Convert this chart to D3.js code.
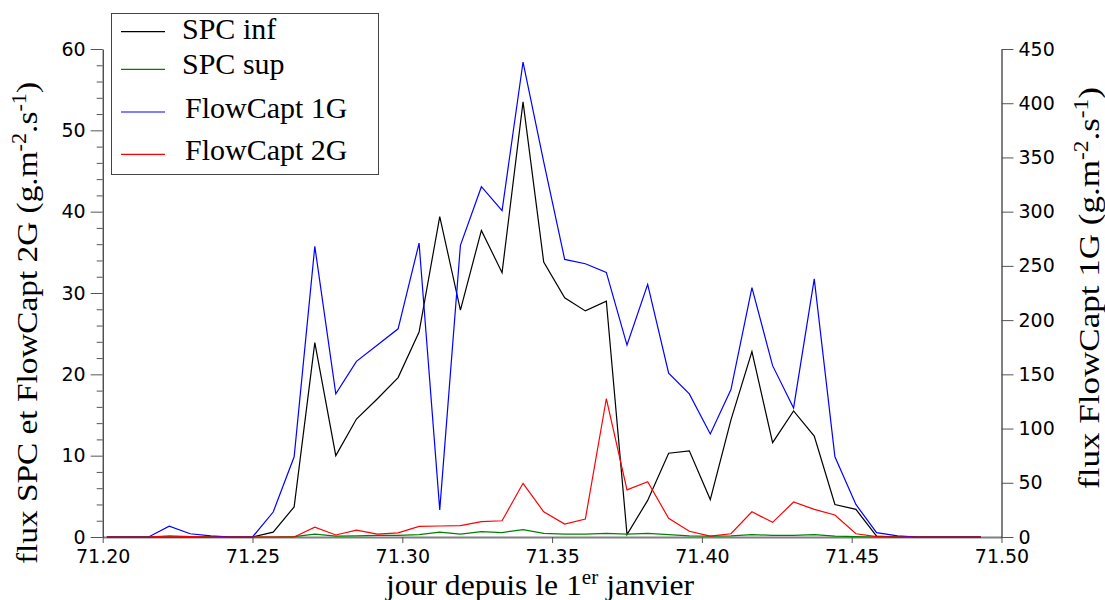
<!DOCTYPE html>
<html>
<head>
<meta charset="utf-8">
<script src="https://cdn.jsdelivr.net/npm/d3@7"></script>
<style>
html,body{margin:0;padding:0;background:#fff;}
svg{display:block;}
.tick text{font-family:"DejaVu Sans",sans-serif;font-size:19px;fill:#000;}
</style>
</head>
<body>
<svg id="chart" width="1105" height="600"></svg>
<script>
// time (day since 1 January), 10-minute steps
const days = [71.2014,71.2083,71.2153,71.2222,71.2292,71.2361,71.2431,71.2500,71.2569,71.2639,
  71.2708,71.2778,71.2847,71.2917,71.2986,71.3056,71.3125,71.3194,71.3264,71.3333,
  71.3403,71.3472,71.3542,71.3611,71.3681,71.3750,71.3819,71.3889,71.3958,71.4028,
  71.4097,71.4167,71.4236,71.4306,71.4375,71.4444,71.4514,71.4583,71.4653,71.4722,
  71.4792,71.4861,71.4931];
const spcInf = [0,0,0,0,0,0,0,0,0.6,3.7,
  23.9,10.0,14.5,17.0,19.6,25.2,39.4,27.9,37.7,32.5,
  53.5,33.8,29.4,27.8,29.0,0.3,4.5,10.3,10.6,4.6,
  14.4,22.8,11.6,15.5,12.4,4.0,3.4,0.1,0,0,
  0,0,0];
const spcSup = [0,0,0,0,0,0,0,0,0,0.05,
  0.35,0.1,0.15,0.2,0.2,0.3,0.6,0.35,0.65,0.55,
  0.9,0.45,0.35,0.35,0.45,0.35,0.45,0.3,0.15,0.1,
  0.15,0.3,0.2,0.2,0.3,0.1,0.05,0,0,0,
  0,0,0];
const flowCapt1G = [0,0,0,10,3,1,0,0,23,74,
  268,132,162,177,192,271,25,269,323,301,
  438,346,256,252,244,177,233,151,132,95,
  136,230,158,119,238,74,30,4,1,0,
  0,0,0];
const flowCapt2G = [0,0,0,0.15,0.05,0,0,0,0,0,
  1.2,0.25,0.85,0.35,0.5,1.3,1.35,1.4,1.9,2.0,
  6.6,3.1,1.6,2.2,17.0,5.8,6.8,2.3,0.7,0.1,
  0.4,3.1,1.8,4.3,3.4,2.7,0.4,0.05,0,0,
  0,0,0];
const xTicks = [71.20,71.25,71.30,71.35,71.40,71.45,71.50];
const leftTicks = [0,10,20,30,40,50,60];
const leftMinor = [2,4,6,8,12,14,16,18,22,24,26,28,32,34,36,38,42,44,46,48,52,54,56,58];
const rightTicks = [0,50,100,150,200,250,300,350,400,450];
const legendLabels = ["SPC inf","SPC sup","FlowCapt 1G","FlowCapt 2G"];
const colors = ["#000000","#008000","#0000ff","#ff0000"];

const svg = d3.select("#chart");
const L = 102.7, R = 1001.5, T = 49, B = 537;
const x = d3.scaleLinear().domain([71.2,71.5]).range([L,R]);
const yL = d3.scaleLinear().domain([0,60]).range([B,T]);
const yR = d3.scaleLinear().domain([0,450]).range([B,T]);

// x axis
const gx = svg.append("g").attr("transform",`translate(0,${B})`)
  .call(d3.axisBottom(x).tickValues(xTicks).tickFormat(d3.format(".2f")).tickSize(6).tickPadding(7).tickSizeOuter(0));
gx.select(".domain").attr("stroke","#808080").attr("stroke-width",2);
gx.selectAll(".tick line").attr("stroke","#555");

// left axis
const gl = svg.append("g").attr("transform",`translate(${L},0)`)
  .call(d3.axisLeft(yL).tickValues(leftTicks).tickSize(12).tickPadding(5).tickSizeOuter(0));
gl.selectAll(".tick line").attr("stroke","#555");
svg.append("g").attr("transform",`translate(${L},0)`)
  .call(d3.axisLeft(yL).tickValues(leftMinor).tickSize(6).tickFormat("").tickSizeOuter(0))
  .call(g=>g.select(".domain").remove())
  .selectAll(".tick line").attr("stroke","#555");

// right axis
const gr = svg.append("g").attr("transform",`translate(${R},0)`)
  .call(d3.axisRight(yR).tickValues(rightTicks).tickSize(12).tickPadding(5).tickSizeOuter(0));
gr.selectAll(".tick line").attr("stroke","#555");

// lines
const lineL = d3.line().x((d,i)=>x(days[i])).y(d=>yL(d));
const lineR = d3.line().x((d,i)=>x(days[i])).y(d=>yR(d));
const series = [
  {v:spcInf, line:lineL, c:colors[0]},
  {v:spcSup, line:lineL, c:colors[1]},
  {v:flowCapt1G, line:lineR, c:colors[2]},
  {v:flowCapt2G, line:lineL, c:colors[3]}
];
series.forEach(s=>{
  svg.append("path").datum(s.v).attr("d",s.line)
    .attr("fill","none").attr("stroke",s.c).attr("stroke-width",1.2).attr("stroke-linejoin","miter");
});

// legend
const serif = "'Liberation Serif','Times New Roman',serif";
svg.append("rect").attr("x",111.5).attr("y",13.5).attr("width",267).attr("height",161)
  .attr("fill","#fff").attr("stroke","#444").attr("stroke-width",1);
const legLineY = [31.7,69.3,112,154.3];
const legTextY = [38.5,73.5,117.5,160];
const legTextX = [182,182,185,185];
legendLabels.forEach((lab,i)=>{
  svg.append("line").attr("x1",121).attr("x2",165).attr("y1",legLineY[i]).attr("y2",legLineY[i])
    .attr("stroke",colors[i]).attr("stroke-width",1.2);
  svg.append("text").attr("x",legTextX[i]).attr("y",legTextY[i])
    .attr("font-family",serif).attr("font-size",30).text(lab);
});

// axis titles
const xl = svg.append("text").attr("x",540).attr("y",595).attr("text-anchor","middle")
  .attr("font-family",serif).attr("font-size",30)
  .attr("textLength",308).attr("lengthAdjust","spacingAndGlyphs");
xl.append("tspan").text("jour depuis le 1");
xl.append("tspan").attr("font-size",20).attr("dy",-11).text("er");
xl.append("tspan").attr("dy",11).text(" janvier");

function unitLabel(sel, prefix){
  sel.append("tspan").text(prefix+" (g.m");
  sel.append("tspan").attr("font-size",20).attr("dy",-11).text("-2");
  sel.append("tspan").attr("dy",11).text(".s");
  sel.append("tspan").attr("font-size",20).attr("dy",-11).text("-1");
  sel.append("tspan").attr("dy",11).text(")");
}
const yl = svg.append("text").attr("transform","translate(37,323) rotate(-90)")
  .attr("text-anchor","middle").attr("font-family",serif).attr("font-size",30)
  .attr("textLength",482).attr("lengthAdjust","spacingAndGlyphs");
unitLabel(yl,"flux SPC et FlowCapt 2G");
const yr = svg.append("text").attr("transform","translate(1099,288) rotate(-90)")
  .attr("text-anchor","middle").attr("font-family",serif).attr("font-size",30)
  .attr("textLength",402).attr("lengthAdjust","spacingAndGlyphs");
unitLabel(yr,"flux FlowCapt 1G");
</script>
</body>
</html>
